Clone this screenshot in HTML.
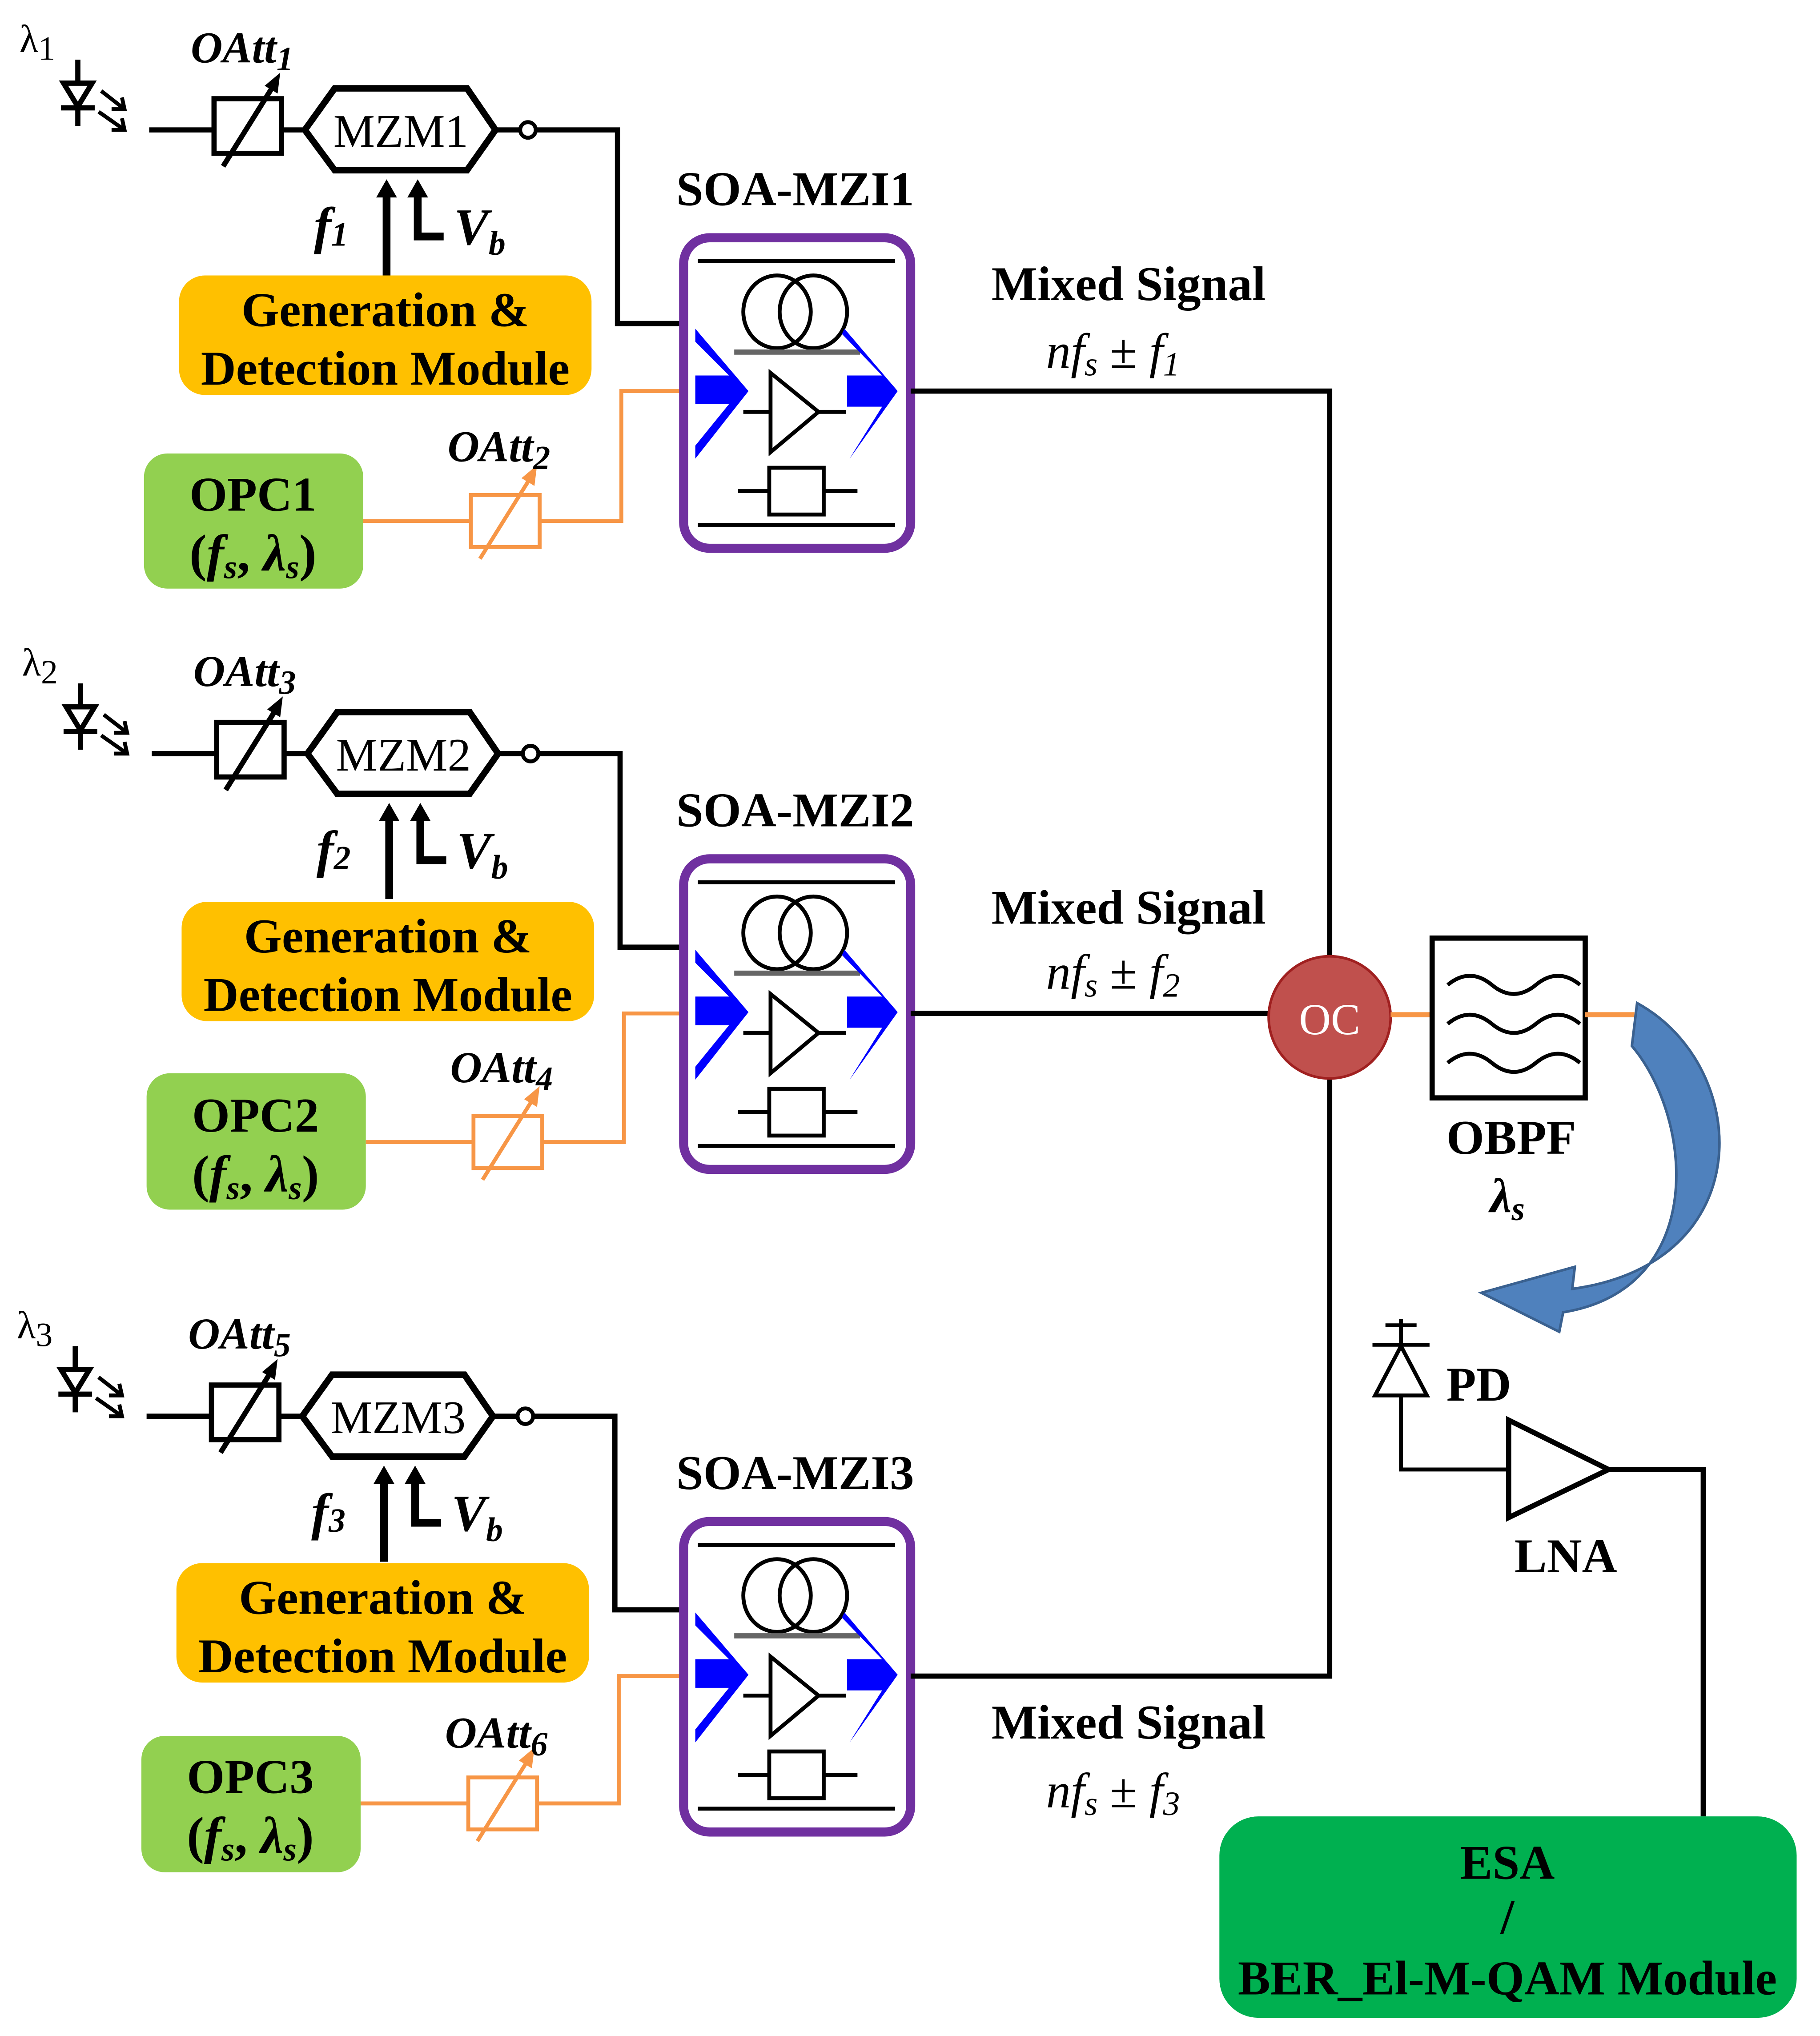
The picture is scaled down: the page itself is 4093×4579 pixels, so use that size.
<!DOCTYPE html>
<html><head><meta charset="utf-8"><style>
html,body{margin:0;padding:0;background:#fff;}
svg{display:block;}
text{font-family:"Liberation Serif",serif;font-weight:bold;fill:#000;font-size:37.5px;}
.it{font-style:italic;}
.n{font-weight:normal;}
.s{font-size:26px;}
</style></head><body>
<svg width="4093" height="4579" viewBox="0 0 1403 1567" preserveAspectRatio="none" xmlns="http://www.w3.org/2000/svg">
<defs>
<g id="soa">
  <rect x="0" y="0" width="175" height="239" rx="20" fill="#fff" stroke="#7030A0" stroke-width="7"/>
  <line x1="11" y1="18" x2="163" y2="18" stroke="#000" stroke-width="3"/>
  <line x1="11" y1="221" x2="163" y2="221" stroke="#000" stroke-width="3"/>
  <ellipse cx="72" cy="57" rx="26" ry="28" fill="none" stroke="#000" stroke-width="3"/>
  <ellipse cx="100" cy="57" rx="26" ry="28" fill="none" stroke="#000" stroke-width="3"/>
  <line x1="39" y1="88" x2="136" y2="88" stroke="#666" stroke-width="4"/>
  <polygon points="9,70 50,118 9,170 9,160 35,128 9,128 9,106 35,106 9,80" fill="#0000ff"/>
  <polygon points="124,70 165,118 128,170 131,165 153,130 126,130 126,106 153,106 122,74" fill="#0000ff"/>
  <line x1="46" y1="134" x2="67" y2="134" stroke="#000" stroke-width="3"/>
  <polygon points="67,104 67,165 104,134" fill="#fff" stroke="#000" stroke-width="3"/>
  <line x1="104" y1="134" x2="125" y2="134" stroke="#000" stroke-width="3"/>
  <line x1="42" y1="195" x2="134" y2="195" stroke="#000" stroke-width="3"/>
  <rect x="66" y="177" width="42" height="36" fill="#fff" stroke="#000" stroke-width="3"/>
</g>
<g id="led">
  <line x1="60" y1="46" x2="60" y2="97" stroke="#000" stroke-width="4"/>
  <polygon points="49,64 71,64 60,82" fill="#fff" stroke="#000" stroke-width="4"/>
  <line x1="47" y1="83" x2="73" y2="83" stroke="#000" stroke-width="4"/>
  <line x1="78" y1="70" x2="96" y2="84" stroke="#000" stroke-width="3"/>
  <polyline points="86,84 96,84 94,75" fill="none" stroke="#000" stroke-width="3"/>
  <line x1="76" y1="86" x2="96" y2="100" stroke="#000" stroke-width="3"/>
  <polyline points="86,100 96,100 94,91" fill="none" stroke="#000" stroke-width="3"/>
</g>
<g id="att">
  <rect x="0" y="0" width="53" height="40" fill="#fff" stroke="#F79646" stroke-width="3"/>
  <line x1="7" y1="49" x2="47" y2="-15" stroke="#F79646" stroke-width="3"/>
  <polygon points="51,-23 39,-13 49,-7" fill="#F79646"/>
</g>
<g id="top">
  <use href="#led"/>
  <line x1="115" y1="100" x2="165" y2="100" stroke="#000" stroke-width="4"/>
  <rect x="165" y="76" width="52" height="42" fill="#fff" stroke="#000" stroke-width="4"/>
  <line x1="172" y1="128" x2="212" y2="64" stroke="#000" stroke-width="4"/>
  <polygon points="216,56 204,66 214,72" fill="#000"/>
  <line x1="217" y1="100" x2="235" y2="100" stroke="#000" stroke-width="4"/>
  <polygon points="235,100 258,68 360,68 382,100 360,131 258,131" fill="#fff" stroke="#000" stroke-width="5"/>
  <line x1="382" y1="100" x2="401" y2="100" stroke="#000" stroke-width="4"/>
  <circle cx="407" cy="100" r="6" fill="#fff" stroke="#000" stroke-width="3"/>
  <line x1="298" y1="212" x2="298" y2="148" stroke="#000" stroke-width="6"/>
  <polygon points="298,138 290,152 306,152" fill="#000"/>
  <polyline points="322,148 322,182 342,182" fill="none" stroke="#000" stroke-width="6"/>
  <polygon points="322,138 314,152 330,152" fill="#000"/>
</g>
</defs>

<!-- Section 1 -->
<g>
  <use href="#top"/>
  <text x="15" y="40" class="n" style="font-size:30px">λ<tspan class="s" dy="6">1</tspan></text>
  <text x="147" y="48" class="it" style="font-size:34px">OAtt<tspan class="s" dy="6">1</tspan></text>
  <text x="309" y="113" class="n" style="font-size:36px" text-anchor="middle">MZM1</text>
  <polyline points="413,100 476,100 476,249 527,249" fill="none" stroke="#000" stroke-width="4"/>
  <text x="242" y="187" class="it" style="font-size:40px">f<tspan class="s" dy="2">1</tspan></text>
  <text x="350" y="188" class="it" style="font-size:40px">V<tspan class="s" dy="8">b</tspan></text>
  <rect x="138" y="212" width="318" height="92" rx="20" fill="#FFC000"/>
  <text x="297" y="251" text-anchor="middle">Generation &amp;</text>
  <text x="297" y="296" text-anchor="middle">Detection Module</text>
  <rect x="111" y="349" width="169" height="104" rx="18" fill="#92D050"/>
  <text x="195" y="393" text-anchor="middle">OPC1</text>
  <text x="195" y="439" text-anchor="middle" style="font-size:40px">(<tspan class="it">f<tspan class="s" dy="6">s</tspan></tspan><tspan dy="-6">, </tspan><tspan class="it">λ<tspan class="s" dy="6">s</tspan></tspan><tspan dy="-6">)</tspan></text>
  <line x1="280" y1="401" x2="363" y2="401" stroke="#F79646" stroke-width="3"/>
  <use href="#att" x="363" y="381"/>
  <polyline points="416,401 479,401 479,301 527,301" fill="none" stroke="#F79646" stroke-width="3"/>
  <text x="345" y="355" class="it" style="font-size:34px">OAtt<tspan class="s" dy="6">2</tspan></text>
  <text x="613" y="158" text-anchor="middle">SOA-MZI1</text>
  <use href="#soa" x="527" y="183"/>
</g>

<!-- Section 2 -->
<g transform="translate(2,480)">
  <use href="#top"/>
  <text x="15" y="40" class="n" style="font-size:30px">λ<tspan class="s" dy="6">2</tspan></text>
  <text x="147" y="48" class="it" style="font-size:34px">OAtt<tspan class="s" dy="6">3</tspan></text>
  <text x="309" y="113" class="n" style="font-size:36px" text-anchor="middle">MZM2</text>
  <polyline points="413,100 476,100 476,249 525,249" fill="none" stroke="#000" stroke-width="4"/>
  <text x="242" y="187" class="it" style="font-size:40px">f<tspan class="s" dy="2">2</tspan></text>
  <text x="350" y="188" class="it" style="font-size:40px">V<tspan class="s" dy="8">b</tspan></text>
  <rect x="138" y="214" width="318" height="92" rx="20" fill="#FFC000"/>
  <text x="297" y="253" text-anchor="middle">Generation &amp;</text>
  <text x="297" y="298" text-anchor="middle">Detection Module</text>
  <rect x="111" y="346" width="169" height="105" rx="18" fill="#92D050"/>
  <text x="195" y="391" text-anchor="middle">OPC2</text>
  <text x="195" y="437" text-anchor="middle" style="font-size:40px">(<tspan class="it">f<tspan class="s" dy="6">s</tspan></tspan><tspan dy="-6">, </tspan><tspan class="it">λ<tspan class="s" dy="6">s</tspan></tspan><tspan dy="-6">)</tspan></text>
  <line x1="280" y1="399" x2="363" y2="399" stroke="#F79646" stroke-width="3"/>
  <use href="#att" x="363" y="379"/>
  <polyline points="416,399 479,399 479,300 525,300" fill="none" stroke="#F79646" stroke-width="3"/>
  <text x="345" y="353" class="it" style="font-size:34px">OAtt<tspan class="s" dy="6">4</tspan></text>
  <text x="611" y="156" text-anchor="middle">SOA-MZI2</text>
  <use href="#soa" x="525" y="181"/>
</g>

<!-- Section 3 -->
<g transform="translate(-2,990)">
  <use href="#top"/>
  <text x="15" y="40" class="n" style="font-size:30px">λ<tspan class="s" dy="6">3</tspan></text>
  <text x="147" y="48" class="it" style="font-size:34px">OAtt<tspan class="s" dy="6">5</tspan></text>
  <text x="309" y="113" class="n" style="font-size:36px" text-anchor="middle">MZM3</text>
  <polyline points="413,100 476,100 476,249 529,249" fill="none" stroke="#000" stroke-width="4"/>
  <text x="242" y="187" class="it" style="font-size:40px">f<tspan class="s" dy="2">3</tspan></text>
  <text x="350" y="188" class="it" style="font-size:40px">V<tspan class="s" dy="8">b</tspan></text>
  <rect x="138" y="213" width="318" height="92" rx="20" fill="#FFC000"/>
  <text x="297" y="252" text-anchor="middle">Generation &amp;</text>
  <text x="297" y="297" text-anchor="middle">Detection Module</text>
  <rect x="111" y="346" width="169" height="105" rx="18" fill="#92D050"/>
  <text x="195" y="390" text-anchor="middle">OPC3</text>
  <text x="195" y="436" text-anchor="middle" style="font-size:40px">(<tspan class="it">f<tspan class="s" dy="6">s</tspan></tspan><tspan dy="-6">, </tspan><tspan class="it">λ<tspan class="s" dy="6">s</tspan></tspan><tspan dy="-6">)</tspan></text>
  <line x1="280" y1="398" x2="363" y2="398" stroke="#F79646" stroke-width="3"/>
  <use href="#att" x="363" y="378"/>
  <polyline points="416,398 479,398 479,300 529,300" fill="none" stroke="#F79646" stroke-width="3"/>
  <text x="345" y="355" class="it" style="font-size:34px">OAtt<tspan class="s" dy="6">6</tspan></text>
  <text x="615" y="156" text-anchor="middle">SOA-MZI3</text>
  <use href="#soa" x="529" y="181"/>
</g>

<!-- combining -->
<polyline points="702,301 1025,301 1025,1290 702,1290" fill="none" stroke="#000" stroke-width="4"/>
<line x1="702" y1="780" x2="980" y2="780" stroke="#000" stroke-width="4"/>
<text x="870" y="231" text-anchor="middle">Mixed Signal</text>
<text x="858" y="283" class="it n" style="font-size:38px" text-anchor="middle">nf<tspan class="s" dy="6">s</tspan><tspan dy="-6" style="font-style:normal"> ± </tspan>f<tspan class="s" dy="6">1</tspan></text>
<text x="870" y="711" text-anchor="middle">Mixed Signal</text>
<text x="858" y="761" class="it n" style="font-size:38px" text-anchor="middle">nf<tspan class="s" dy="6">s</tspan><tspan dy="-6" style="font-style:normal"> ± </tspan>f<tspan class="s" dy="6">2</tspan></text>
<text x="870" y="1338" text-anchor="middle">Mixed Signal</text>
<text x="858" y="1391" class="it n" style="font-size:38px" text-anchor="middle">nf<tspan class="s" dy="6">s</tspan><tspan dy="-6" style="font-style:normal"> ± </tspan>f<tspan class="s" dy="6">3</tspan></text>

<circle cx="1025" cy="783" r="47" fill="#C0504D" stroke="#A02020" stroke-width="2"/>
<text x="1025" y="796" text-anchor="middle" style="fill:#fff;font-weight:normal;font-size:34px">OC</text>
<line x1="1072" y1="781" x2="1104" y2="781" stroke="#F79646" stroke-width="4"/>
<rect x="1104" y="722" width="118" height="123" fill="#fff" stroke="#000" stroke-width="4"/>
<path d="M1116,758 q17,-14 34,0 t34,0 t34,0" fill="none" stroke="#000" stroke-width="3"/>
<path d="M1116,788 q17,-14 34,0 t34,0 t34,0" fill="none" stroke="#000" stroke-width="3"/>
<path d="M1116,818 q17,-14 34,0 t34,0 t34,0" fill="none" stroke="#000" stroke-width="3"/>
<line x1="1222" y1="781" x2="1260" y2="781" stroke="#F79646" stroke-width="4"/>
<text x="1165" y="888" text-anchor="middle">OBPF</text>
<text x="1162" y="933" class="it" text-anchor="middle">λ<tspan class="s" dy="6">s</tspan></text>

<path d="M1262,772 C1350,820 1358,972 1212,992 L1214,975 L1142,995 L1202,1025 L1205,1010 C1316,992 1306,862 1258,805 Z" fill="#4F81BD" stroke="#3A6190" stroke-width="2"/>

<!-- PD / LNA -->
<line x1="1068" y1="1020" x2="1092" y2="1020" stroke="#000" stroke-width="3"/>
<line x1="1080" y1="1015" x2="1080" y2="1035" stroke="#000" stroke-width="3"/>
<line x1="1058" y1="1035" x2="1102" y2="1035" stroke="#000" stroke-width="3"/>
<polygon points="1080,1036 1060,1074 1100,1074" fill="#fff" stroke="#000" stroke-width="3"/>
<polyline points="1080,1074 1080,1131 1163,1131" fill="none" stroke="#000" stroke-width="3"/>
<polygon points="1163,1093 1163,1168 1240,1131" fill="#fff" stroke="#000" stroke-width="4"/>
<polyline points="1240,1131 1313,1131 1313,1398" fill="none" stroke="#000" stroke-width="4"/>
<text x="1115" y="1078">PD</text>
<text x="1207" y="1210" text-anchor="middle">LNA</text>

<rect x="940" y="1398" width="445" height="155" rx="30" fill="#00B050"/>
<text x="1162" y="1446" text-anchor="middle">ESA</text>
<text x="1162" y="1488" text-anchor="middle">/</text>
<text x="1162" y="1535" text-anchor="middle">BER_El-M-QAM Module</text>
</svg>
</body></html>
